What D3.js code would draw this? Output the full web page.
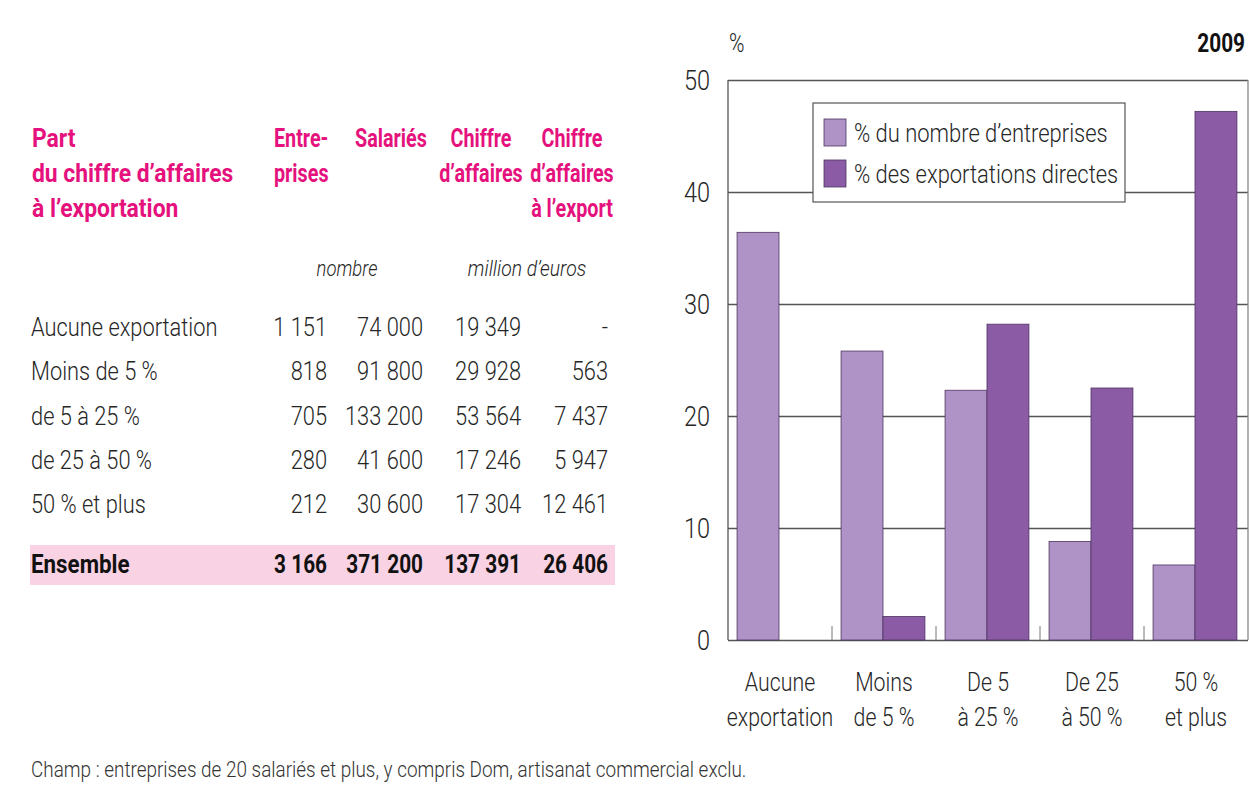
<!DOCTYPE html>
<html>
<head>
<meta charset="utf-8">
<script src="https://cdn.jsdelivr.net/npm/d3@7"></script>
<style>
  body { margin: 0; background: #fff; }
  svg text { font-family: Roboto, "Liberation Sans", sans-serif; font-weight: 300; }
</style>
</head>
<body>
<div id="chart"></div>
<script>
// table values
const rowLabels = ["Aucune exportation", "Moins de 5 %", "de 5 à 25 %", "de 25 à 50 %", "50 % et plus"];
const entreprises = [1151, 818, 705, 280, 212];
const salaries = [74000, 91800, 133200, 41600, 30600];
const chiffreAffaires = [19349, 29928, 53564, 17246, 17304];
const chiffreExport = [null, 563, 7437, 5947, 12461];
const totals = [3166, 371200, 137391, 26406];

// bar chart values (%)
const categories = [["Aucune", "exportation"], ["Moins", "de 5 %"], ["De 5", "à 25 %"], ["De 25", "à 50 %"], ["50 %", "et plus"]];
const seriesNames = ["% du nombre d’entreprises", "% des exportations directes"];
const pctEntreprises = [36.4, 25.8, 22.3, 8.8, 6.7];
const pctExport = [0, 2.1, 28.2, 22.5, 47.2];
const yTicks = [0, 10, 20, 30, 40, 50];

const W = 1249, H = 785;
const pink = "#e5127d", ink = "#262626";
const colors = ["#b093c6", "#8c5ba6"];
const SX = 0.84; // horizontal squeeze, the source uses a condensed face

const svg = d3.select('#chart').append('svg')
  .attr('width', W)
  .attr('height', H);

const fr = d3.formatLocale({decimal: ",", thousands: " ", grouping: [3], currency: ["", " €"]});
const fmt = fr.format(",d");

// condensed text helper
function txt(parent, x, y, str, o = {}) {
  return parent.append('text')
    .attr('transform', `translate(${x},${y}) scale(${o.sx || SX},1)`)
    .attr('text-anchor', o.anchor || 'start')
    .style('font-size', (o.size || 26) + 'px')
    .style('font-weight', o.bold ? 'bold' : null)
    .style('font-style', o.italic ? 'italic' : null)
    .style('fill', o.fill || ink)
    .text(str);
}

// ---- table ----
const tbl = svg.append('g');
["Part", "du chiffre d’affaires", "à l’exportation"].forEach((t, i) => {
  txt(tbl, 32, 147 + i * 35, t, {bold: true, fill: pink, sx: 0.88});
});

const headers = [
  {lines: ["Entre-", "prises"], x: 274, anchor: 'start'},
  {lines: ["Salariés"], x: 391, anchor: 'middle'},
  {lines: ["Chiffre", "d’affaires"], x: 481, anchor: 'middle'},
  {lines: ["Chiffre", "d’affaires", "à l’export"], x: 572, anchor: 'middle'}
];
headers.forEach(h => {
  h.lines.forEach((t, i) => {
    txt(tbl, h.x, 147 + i * 35, t, {bold: true, fill: pink, anchor: h.anchor, sx: 0.76});
  });
});

txt(tbl, 347, 276, 'nombre', {size: 22, italic: true, anchor: 'middle'});
txt(tbl, 527, 276, 'million d’euros', {size: 22, italic: true, anchor: 'middle', sx: 0.88});

const colRight = [327, 423, 521, 608];
const rowY = d3.scalePoint().domain(d3.range(rowLabels.length)).range([336, 513]);

rowLabels.forEach((lab, i) => {
  const y = rowY(i);
  txt(tbl, 31, y, lab);
  [entreprises[i], salaries[i], chiffreAffaires[i], chiffreExport[i]].forEach((v, j) => {
    txt(tbl, colRight[j], y, v == null ? '-' : fmt(v), {anchor: 'end'});
  });
});

tbl.append('rect').attr('x', 30).attr('y', 545).attr('width', 585).attr('height', 40).attr('fill', '#f9d3e4');
txt(tbl, 31, 573, 'Ensemble', {bold: true, fill: '#111', sx: 0.86});
totals.forEach((v, j) => {
  txt(tbl, colRight[j], 573, fmt(v), {bold: true, fill: '#111', anchor: 'end', sx: 0.8});
});

// ---- bar chart ----
const x0 = d3.scaleBand().domain(d3.range(categories.length)).range([728, 1248]);
const x1 = d3.scaleBand().domain([0, 1]).range([0, x0.bandwidth()]).paddingOuter(0.24).align(0.45);
const y = d3.scaleLinear().domain([0, 50]).range([640, 80]);

const ch = svg.append('g');

// grid
ch.append('g')
  .attr('transform', `translate(728,0)`)
  .call(d3.axisLeft(y).tickValues(yTicks).tickSize(-520).tickFormat(''))
  .call(g => g.select('.domain').remove())
  .call(g => g.selectAll('line').attr('stroke', '#555').attr('stroke-width', 1.3));

// frame sides
ch.append('line').attr('x1', 728).attr('x2', 728).attr('y1', y(50)).attr('y2', y(0)).attr('stroke', '#555').attr('stroke-width', 1.3);
ch.append('line').attr('x1', 1248).attr('x2', 1248).attr('y1', y(50)).attr('y2', y(0)).attr('stroke', '#888').attr('stroke-width', 1.3);

// separators between groups
x0.domain().slice(1).forEach(i => {
  ch.append('line').attr('x1', x0(i)).attr('x2', x0(i)).attr('y1', y(0)).attr('y2', y(0) - 14)
    .attr('stroke', '#777').attr('stroke-width', 1);
});

[pctEntreprises, pctExport].forEach((vals, s) => {
  ch.append('g').selectAll('rect')
    .data(vals)
    .join('rect')
    .attr('x', (d, i) => x0(i) + x1(s))
    .attr('y', d => y(d))
    .attr('width', x1.bandwidth())
    .attr('height', d => y(0) - y(d))
    .attr('fill', colors[s])
    .attr('stroke', d => d > 0 ? '#4d3560' : 'none')
    .attr('stroke-width', 0.8);
});

// y labels
yTicks.forEach(v => {
  txt(ch, 710, y(v) + 10, v, {size: 28, anchor: 'end'});
});

// x labels
categories.forEach((lines, i) => {
  lines.forEach((t, k) => {
    txt(ch, x0(i) + x0.bandwidth() / 2, 691 + k * 35, t, {anchor: 'middle', sx: 0.82});
  });
});

txt(ch, 729, 52, '%', {size: 25});
txt(ch, 1245, 52, '2009', {size: 26, bold: true, fill: '#111', anchor: 'end', sx: 0.8});

// legend
const lg = ch.append('g').attr('transform', 'translate(813,103)');
lg.append('rect').attr('width', 312).attr('height', 99).attr('fill', '#fff').attr('stroke', '#555').attr('stroke-width', 1.2);
seriesNames.forEach((name, i) => {
  lg.append('rect').attr('x', 11).attr('y', 16 + i * 41).attr('width', 22).attr('height', 27)
    .attr('fill', colors[i]).attr('stroke', '#4d3560').attr('stroke-width', 0.8);
  txt(lg, 41, 39 + i * 41, name, {sx: 0.845});
});

// footnote
txt(svg, 31, 777, 'Champ : entreprises de 20 salariés et plus, y compris Dom, artisanat commercial exclu.', {size: 22, sx: 0.86, fill: '#333'});
</script>
</body>
</html>
